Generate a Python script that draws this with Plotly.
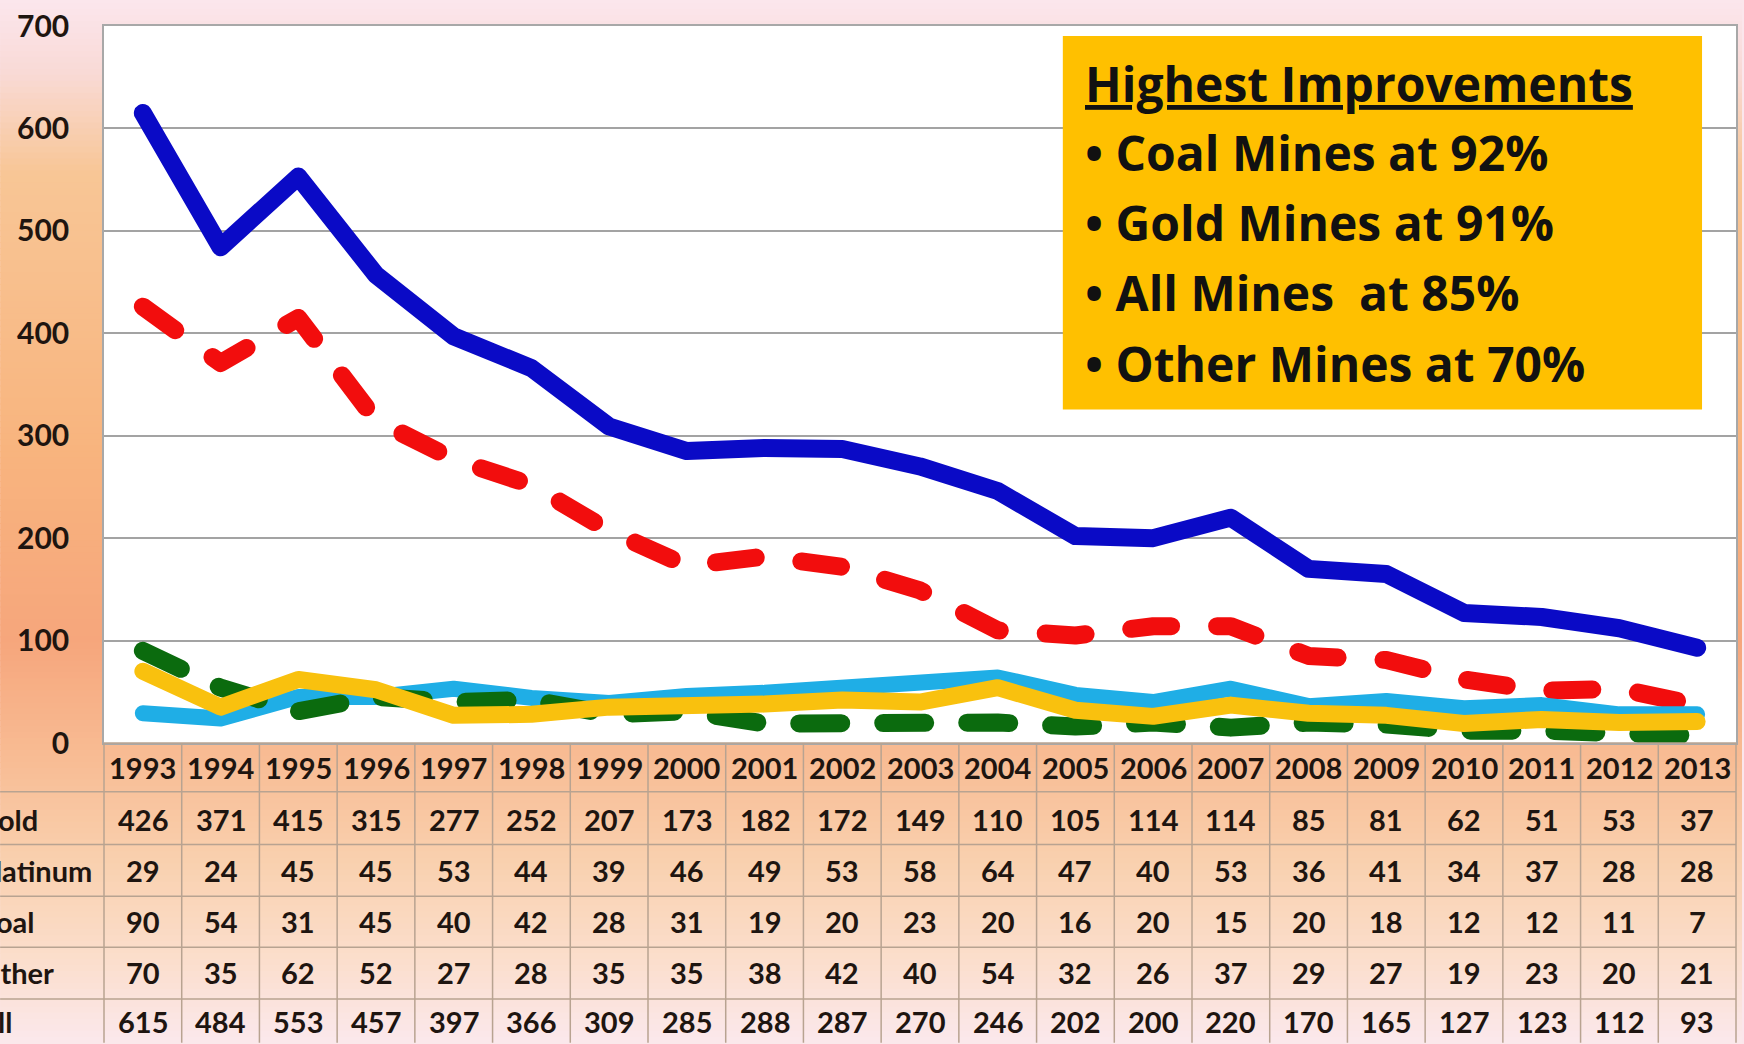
import plotly.graph_objects as go

# data
years = list(range(1993, 2014))
gold = [426, 371, 415, 315, 277, 252, 207, 173, 182, 172, 149, 110, 105, 114, 114, 85, 81, 62, 51, 53, 37]
platinum = [29, 24, 45, 45, 53, 44, 39, 46, 49, 53, 58, 64, 47, 40, 53, 36, 41, 34, 37, 28, 28]
coal = [90, 54, 31, 45, 40, 42, 28, 31, 19, 20, 23, 20, 16, 20, 15, 20, 18, 12, 12, 11, 7]
other = [70, 35, 62, 52, 27, 28, 35, 35, 38, 42, 40, 54, 32, 26, 37, 29, 27, 19, 23, 20, 21]
all_mines = [615, 484, 553, 457, 397, 366, 309, 285, 288, 287, 270, 246, 202, 200, 220, 170, 165, 127, 123, 112, 93]

row_names = ["Gold", "Platinum", "Coal", "Other", "All"]
row_values = [gold, platinum, coal, other, all_mines]

box_title = "Highest Improvements"
box_lines = ["Coal Mines at 92%", "Gold Mines at 91%", "All Mines  at 85%", "Other Mines at 70%"]

# page geometry (pixels)
W, H = 1744, 1044
L, R, T, B = 104, 6, 23, 301
PW, PH = W - L - R, H - T - B
FONT = "Lato"
BOX_FONT = "Open Sans"
TXT = "#1e1510"


def px2x(px):
    return (px - L) / PW


def px2y(py):
    return (T + PH - py) / PH


fig = go.Figure()

series = [
    ("Gold", gold, "#F20D0D", 18, "40px,46px"),
    ("Platinum", platinum, "#1FAEE6", 16, "solid"),
    ("Coal", coal, "#0B6B0E", 18, "42px,42px"),
    ("Other", other, "#F9C10E", 17, "solid"),
    ("All", all_mines, "#0A0AC6", 18, "solid"),
]
for name, vals, color, width, dash in series:
    fig.add_trace(go.Scatter(x=years, y=vals, mode="lines", name=name,
                             line=dict(color=color, width=width, dash=dash)))

shapes = []
# background gradient (pink -> orange -> pink), drawn as thin bands
stops = [(0, (251, 230, 236)), (70, (249, 218, 214)), (170, (248, 198, 150)),
         (450, (248, 180, 126)), (640, (246, 166, 124)), (760, (248, 188, 148)),
         (860, (249, 208, 174)), (960, (251, 222, 204)), (1044, (251, 232, 236))]
step = 6
for y0 in range(0, H, step):
    yc = y0 + step / 2
    for (a, ca), (b, cb) in zip(stops[:-1], stops[1:]):
        if a <= yc <= b:
            t = (yc - a) / (b - a)
            c = tuple(int(round(ca[k] + (cb[k] - ca[k]) * t)) for k in range(3))
            break
    shapes.append(dict(type="rect", xref="paper", yref="paper", layer="below",
                       x0=px2x(0), x1=px2x(W), y0=px2y(y0 + step + 1), y1=px2y(y0),
                       fillcolor="rgb(%d,%d,%d)" % c, line_width=0))
# white plot area on top of the gradient
shapes.append(dict(type="rect", xref="paper", yref="paper", layer="below",
                   x0=0, x1=1, y0=0, y1=1, fillcolor="white", line_width=0))

# data table grid under the plot
grid_col = "#B8A391"
row_edges = [743, 792, 845, 897, 948, 1000]
for py in row_edges[1:]:
    shapes.append(dict(type="line", xref="paper", yref="paper", layer="above",
                       x0=px2x(0), x1=1, y0=px2y(py), y1=px2y(py),
                       line=dict(color=grid_col, width=1.5)))
shapes.append(dict(type="line", xref="paper", yref="paper", layer="above",
                   x0=0, x1=1, y0=0, y1=0, line=dict(color=grid_col, width=1.5)))
for i in range(len(years) + 1):
    shapes.append(dict(type="line", xref="paper", yref="paper", layer="above",
                       x0=i / len(years), x1=i / len(years), y0=0, y1=px2y(H),
                       line=dict(color=grid_col, width=1.5)))

# text box
shapes.append(dict(type="rect", xref="paper", yref="paper", layer="above",
                   x0=px2x(1064), x1=px2x(1704), y0=px2y(408), y1=px2y(33),
                   fillcolor="#FFC000", line_width=0))

annotations = []
# year header
for yr in years:
    annotations.append(dict(x=yr, xref="x", y=px2y(768), yref="paper", yanchor="middle",
                            text="<b>%d</b>" % yr, showarrow=False,
                            font=dict(family=FONT, size=29, color=TXT)))
# table rows (row labels run off the left edge, as in the original)
row_centers = [820, 871, 922, 973, 1023]
for name, vals, yc in zip(row_names, row_values, row_centers):
    annotations.append(dict(x=px2x(-25), xref="paper", y=px2y(yc), yref="paper",
                            text="<b>%s</b>" % name, showarrow=False,
                            xanchor="left", yanchor="middle",
                            font=dict(family=FONT, size=29, color=TXT)))
    for yr, v in zip(years, vals):
        annotations.append(dict(x=yr, xref="x", y=px2y(yc), yref="paper", yanchor="middle",
                                text="<b>%d</b>" % v, showarrow=False,
                                font=dict(family=FONT, size=29, color=TXT)))

# box text
annotations.append(dict(x=px2x(1084), xref="paper", y=px2y(81), yref="paper",
                        text="<b><u>%s</u></b>" % box_title, showarrow=False,
                        xanchor="left", yanchor="middle",
                        font=dict(family=BOX_FONT, size=48, color="#111111")))
for line, yc in zip(box_lines, [150, 220, 291, 362]):
    annotations.append(dict(x=px2x(1084), xref="paper", y=px2y(yc), yref="paper",
                            text="<b>•&nbsp;%s</b>" % line.replace("  ", "&nbsp; "),
                            showarrow=False, xanchor="left", yanchor="middle",
                            font=dict(family=BOX_FONT, size=48, color="#111111")))

fig.update_layout(
    width=W, height=H,
    margin=dict(l=L, r=R, t=T, b=B, pad=0),
    paper_bgcolor="#FBE6EC",
    plot_bgcolor="white",
    showlegend=False,
    shapes=shapes,
    annotations=annotations,
)
fig.update_xaxes(range=[1992.5, 2013.5], showgrid=False, zeroline=False,
                 showticklabels=False, showline=True, mirror=True,
                 linecolor="#A8A8A8", linewidth=1.5)
fig.update_yaxes(range=[0, 700], dtick=100, showgrid=True, gridcolor="#A3A3A3",
                 gridwidth=1.5, zeroline=False, showline=True, mirror=True,
                 linecolor="#A8A8A8", linewidth=1.5, ticklabelstandoff=27,
                 tickfont=dict(family=FONT, size=30, color=TXT),
                 tickprefix="<b>", ticksuffix="</b>")

# body margin off so the figure fills the window; round ends on the thick lines
post = ("document.body.style.margin='0';"
        "document.querySelectorAll('.scatterlayer path.js-line').forEach(function(p){"
        "p.style.strokeLinecap='round';p.style.strokeLinejoin='round';});")
fig.write_html("out.html", post_script=post, config={"displayModeBar": False})
